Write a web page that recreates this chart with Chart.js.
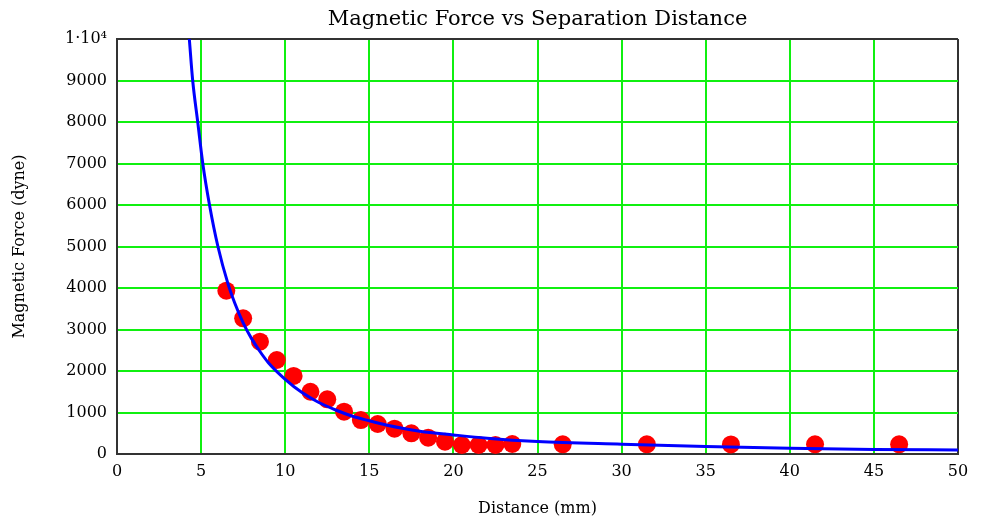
<!DOCTYPE html>
<html>
<head>
<meta charset="utf-8">
<script src="https://cdn.jsdelivr.net/npm/chart.js@4.4.1/dist/chart.umd.min.js"></script>
<style>
  html, body { margin: 0; padding: 0; background: #fff; }
  #wrap { width: 985px; height: 518px; }
</style>
</head>
<body>
<div id="wrap"><canvas id="chart" width="985" height="518"></canvas></div>
<script>
/* =========================
    DATA
========================= */

const chartTitle = "Magnetic Force vs Separation Distance";

// measured points: distance (mm) / force (dyne)
const distMeasured = [6.5, 7.5, 8.5, 9.5, 10.5, 11.5, 12.5, 13.5, 14.5, 15.5, 16.5, 17.5,
  18.5, 19.5, 20.5, 21.5, 22.5, 23.5, 26.5, 31.5, 36.5, 41.5, 46.5];
const forceMeasured = [3935, 3270, 2706, 2265, 1880, 1500, 1318, 1019, 819, 723, 610, 499,
  393, 296, 217, 217, 217, 241, 234, 234, 230, 234, 234];

// fitted curve
const distFit = [4.3, 4.5, 4.8, 5.1, 5.5, 6, 6.6, 7, 7.5, 8, 8.5, 9, 10, 11, 12, 13, 14, 15,
  16, 18, 20, 22, 25, 30, 35, 40, 45, 50];
const forceFit = [10000, 9000, 8000, 7000, 6000, 5000, 4100, 3640, 3160, 2780, 2470, 2200,
  1800, 1480, 1240, 1060, 910, 800, 700, 550, 460, 380, 300, 235, 180, 140, 110, 95];

// ticks
const xTicks = [0, 5, 10, 15, 20, 25, 30, 35, 40, 45, 50];
const yTicks = [0, 1000, 2000, 3000, 4000, 5000, 6000, 7000, 8000, 9000, 10000];

/* =========================
    STYLE
========================= */

const FONT = "'DejaVu Serif', 'Liberation Serif', serif";
const GRID_GREEN = "#10f010";
const FRAME = "#333333";

const toXY = (xs, ys) => xs.map((x, i) => ({ x: x, y: ys[i] }));

// title centred over the plot area (not the whole canvas)
const plotTitle = {
  id: "plotTitle",
  afterDraw(chart) {
    const { ctx, chartArea } = chart;
    ctx.save();
    ctx.font = "21px " + FONT;
    ctx.fillStyle = "#000";
    ctx.textAlign = "center";
    ctx.textBaseline = "middle";
    ctx.fillText(chartTitle, (chartArea.left + chartArea.right) / 2, 20);
    ctx.restore();
  }
};

/* =========================
    CHART
========================= */

new Chart(document.getElementById("chart"), {
  type: "scatter",
  data: {
    datasets: [
      {
        // curve first so it is drawn on top of the dots
        label: "Fit",
        data: toXY(distFit, forceFit),
        showLine: true,
        borderColor: "#0000ff",
        borderWidth: 3,
        pointRadius: 0,
        cubicInterpolationMode: "monotone",
        fill: false
      },
      {
        label: "Measured",
        data: toXY(distMeasured, forceMeasured),
        showLine: false,
        pointRadius: 9,
        pointHoverRadius: 9,
        pointBackgroundColor: "#ff0000",
        pointBorderColor: "#ff0000",
        pointBorderWidth: 0
      }
    ]
  },
  options: {
    responsive: false,
    animation: false,
    layout: { padding: { left: 0, right: 27, top: 39, bottom: 0 } },
    plugins: {
      legend: { display: false },
      tooltip: { enabled: false },
      title: { display: false }
    },
    scales: {
      x: {
        type: "linear",
        min: 0,
        max: 50,
        afterBuildTicks: (s) => { s.ticks = xTicks.map(v => ({ value: v })); },
        afterFit: (s) => { s.height = 64; },
        grid: {
          color: (c) => (c.tick && c.tick.value === 50 ? FRAME : GRID_GREEN),
          lineWidth: 2,
          drawTicks: false
        },
        border: { display: true, color: FRAME, width: 2 },
        ticks: {
          color: "#000",
          padding: 8,
          maxRotation: 0,
          font: { family: FONT, size: 16 }
        },
        title: {
          display: true,
          text: "Distance (mm)",
          color: "#000",
          font: { family: FONT, size: 16 },
          padding: { top: 0, bottom: 0 }
        }
      },
      y: {
        type: "linear",
        min: 0,
        max: 10000,
        afterBuildTicks: (s) => { s.ticks = yTicks.map(v => ({ value: v })); },
        afterFit: (s) => { s.width = 117; },
        grid: {
          color: (c) => (c.tick && c.tick.value === 10000 ? FRAME : GRID_GREEN),
          lineWidth: 2,
          drawTicks: false
        },
        border: { display: true, color: FRAME, width: 2 },
        ticks: {
          color: "#000",
          padding: 10,
          font: { family: FONT, size: 16 },
          callback: (v) => (v === 10000 ? "1\u00b710\u2074" : String(v))
        },
        title: {
          display: true,
          text: "Magnetic Force (dyne)",
          color: "#000",
          font: { family: FONT, size: 16 },
          padding: { top: 10, bottom: 0 }
        }
      }
    }
  },
  plugins: [plotTitle]
});
</script>
</body>
</html>
